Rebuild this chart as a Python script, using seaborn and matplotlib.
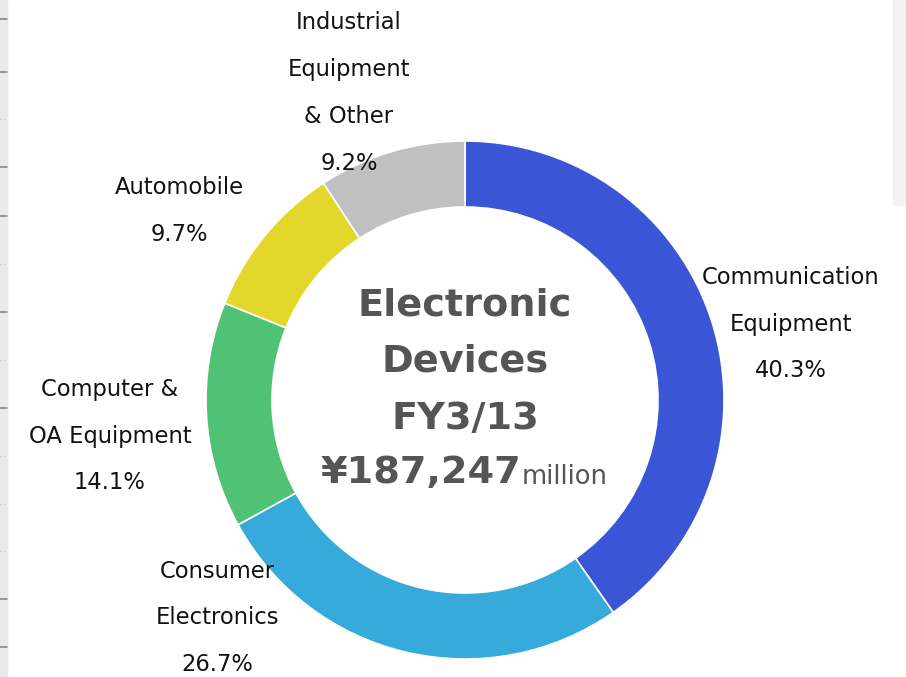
import matplotlib
matplotlib.use("Agg")
import matplotlib.pyplot as plt
import seaborn as sns

# segment data, clockwise from 12 o'clock
segments = ["Communication\nEquipment", "Consumer\nElectronics", "Computer &\nOA Equipment",
            "Automobile", "Industrial\nEquipment\n& Other"]
shares = [40.3, 26.7, 14.1, 9.7, 9.2]
colors = ["#3a55d6", "#35aadb", "#4fc276", "#e2d72a", "#c0c0c0"]

# where each label sits (pixel coords of the label block centre)
label_pos = [(791, 324), (217, 618), (110, 436), (179, 211), (349, 93)]

sns.set_theme(style="white")
plt.rcParams['font.family'] = ['DejaVu Sans']

W, H = 906, 677
fig = plt.figure(figsize=(W / 100, H / 100), dpi=100)
ax = fig.add_axes([0, 0, 1, 1])

cx, cy, R = 465, H - 400, 259
ax.pie(shares, colors=colors, startangle=90, counterclock=False,
       center=(cx, cy), radius=R, frame=True,
       wedgeprops=dict(width=66, edgecolor="white", linewidth=1.2))
ax.set_xlim(0, W)
ax.set_ylim(0, H)
ax.set_aspect("equal")
ax.axis("off")

# segment labels
for name, val, (x, y) in zip(segments, shares, label_pos):
    ax.text(x, H - y, f"{name}\n{val}%", ha="center", va="center",
            fontsize=16.3, color="#111111", linespacing=2.33)

# centre text
grey = "#555555"
ax.text(cx, H - 315, "Electronic", ha="center", va="baseline", fontsize=27.5, fontweight="bold", color=grey)
ax.text(cx, H - 372, "Devices", ha="center", va="baseline", fontsize=27.5, fontweight="bold", color=grey)
ax.text(cx, H - 429, "FY3/13", ha="center", va="baseline", fontsize=27.5, fontweight="bold", color=grey)
ax.text(521, H - 483, "¥187,247", ha="right", va="baseline", fontsize=27.5, fontweight="bold", color=grey)
ax.text(522, H - 484, "million", ha="left", va="baseline", fontsize=18.5, color=grey)

# page edge strips seen in the screenshot
ax.add_patch(plt.Rectangle((0, 0), 7, H, color="#e9e9e9", zorder=0))
for ty in [19, 72, 167, 216, 312, 408, 599, 647]:
    ax.plot([0, 7], [H - ty, H - ty], color="#8a8a8a", lw=1.2)
for ty in [119, 264, 360, 456, 504, 551]:
    ax.plot([0, 5], [H - ty, H - ty], color="#c8c8c8", lw=1, ls=":")
ax.add_patch(plt.Rectangle((893, H - 205), 13, 205, color="#f2f2f2", zorder=0))

fig.savefig("out.png", dpi=100)
